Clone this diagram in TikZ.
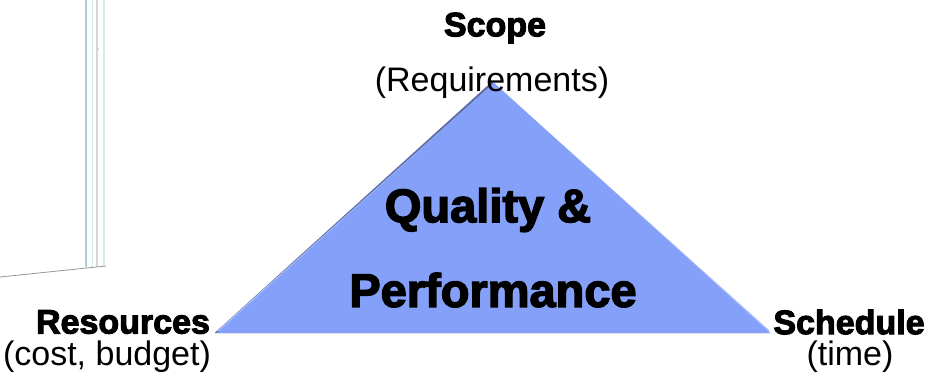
\documentclass[tikz,border=0pt]{standalone}
\usepackage{fontspec}
\setmainfont{Liberation Sans}
\newfontfamily\heavy[FakeBold=3]{Liberation Sans Bold}
\definecolor{trifill}{RGB}{133,160,248}
\definecolor{trishadow}{RGB}{95,110,165}
\definecolor{frameA}{RGB}{170,205,215}
\definecolor{frameB}{RGB}{205,235,232}
\definecolor{frameC}{RGB}{150,150,150}
\tikzset{
  heading/.style={font=\heavy\fontsize{34bp}{40bp}\selectfont, inner sep=0pt, anchor=center},
  sub/.style={font=\fontsize{34bp}{40bp}\selectfont, inner sep=0pt, anchor=center},
  big/.style={font=\heavy\fontsize{47bp}{56bp}\selectfont, inner sep=0pt, anchor=center},
}
\begin{document}
\begin{tikzpicture}[x=1bp,y=-1bp]
\useasboundingbox (0,0) rectangle (942,377);
% faint frame at left
\draw[frameA, line width=1.2bp] (86,0) -- (86,267);
\draw[frameB, line width=1bp] (92,0) -- (92,267);
\draw[frameC!40, line width=1.5bp] (97,0) -- (97,267);
\draw[frameB, line width=2bp] (104,0) -- (104,266);
\draw[frameC, line width=0.8bp] (0,277) -- (106,266);
\fill[frameA] (98,49) circle (1bp);
% triangle
\coordinate (apex) at (494,83);
\coordinate (bl) at (217,333);
\coordinate (br) at (770,333);
\fill[trishadow] ([xshift=-2.5bp,yshift=1bp]apex) -- ([xshift=-2.5bp]bl) -- (br) -- cycle;
\fill[trifill!70!white] ([yshift=2bp]bl) -- ([yshift=2bp]br) -- (apex) -- cycle;
\fill[trifill] (apex) -- (bl) -- (br) -- cycle;
% labels
\node[heading] (scope) at (495,28) {Scope};
\node[sub] (req) at (492,83) {(Requirements)};
\node[big] (q1) at (488,210) {Quality \&};
\node[big] (q2) at (493,290) {Performance};
\node[heading] (res) at (123,322) {Resources};
\node[sub] (cost) at (107,357) {(cost, budget)};
\node[heading] (sch) at (849,322) {Schedule};
\node[sub] (time) at (850,357) {(time)};
\end{tikzpicture}
\end{document}
